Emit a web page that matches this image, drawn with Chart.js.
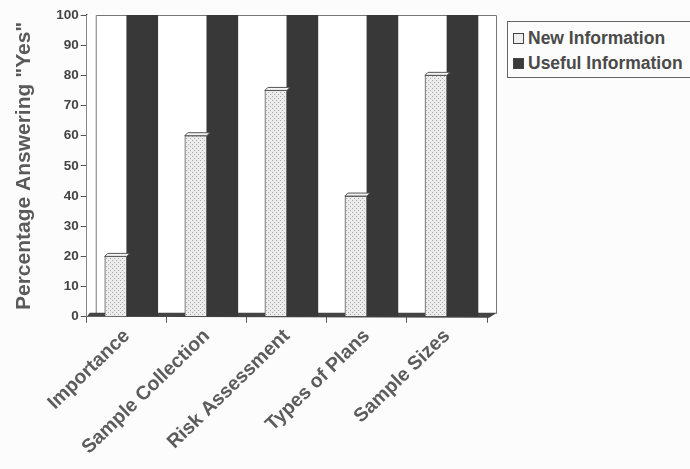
<!DOCTYPE html>
<html>
<head>
<meta charset="utf-8">
<script src="https://cdn.jsdelivr.net/npm/chart.js@4.4.0/dist/chart.umd.min.js"></script>
<style>
  html, body { margin: 0; padding: 0; background: #fcfcfc; }
  #wrap { position: relative; width: 690px; height: 469px; overflow: hidden; }
  #legend {
    position: absolute; left: 507px; top: 21px; width: 190px; height: 57px;
    border: 1.5px solid #666; box-sizing: border-box; background: #fcfcfc;
    font: bold 17.5px "Liberation Sans", Arial, sans-serif; color: #4a4a4a;
  }
  .item { position: absolute; left: 5px; display: flex; align-items: center; white-space: nowrap; }
  .sw { width: 11px; height: 11px; margin-right: 4px; border: 1px solid #444; box-sizing: border-box; }
</style>
</head>
<body>
<div id="wrap">
  <canvas id="c" width="690" height="469"></canvas>
  <div id="legend">
    <div class="item" style="top:6px"><span class="sw" style="background:#eee"></span>New Information</div>
    <div class="item" style="top:31px"><span class="sw" style="background:#3a3a3a"></span>Useful Information</div>
  </div>
</div>
<script>
  "use strict";

  // Data
  const categories = ["Importance", "Sample Collection", "Risk Assessment", "Types of Plans", "Sample Sizes"];
  const newInfo = [20, 60, 75, 40, 80];
  const usefulInfo = [100, 100, 100, 100, 100];
  const yTicks = [0, 10, 20, 30, 40, 50, 60, 70, 80, 90, 100];

  const FONT = "'Liberation Sans', Arial, sans-serif";

  // dotted fill for the light bars
  function dots() {
    const p = document.createElement("canvas");
    p.width = 4; p.height = 4;
    const g = p.getContext("2d");
    g.fillStyle = "#ececec"; g.fillRect(0, 0, 4, 4);
    g.fillStyle = "#a8a8a8"; g.fillRect(0, 0, 1, 1); g.fillRect(2, 2, 1, 1);
    return g.createPattern(p, "repeat");
  }

  const depth = 9;

  const frame3d = {
    id: "frame3d",
    beforeDatasetsDraw(chart) {
      const { ctx, chartArea: a } = chart;
      ctx.save();
      ctx.fillStyle = "#ffffff";
      ctx.fillRect(a.left, a.top, a.width + depth, a.height);
      ctx.strokeStyle = "#777"; ctx.lineWidth = 1;
      ctx.beginPath();
      ctx.moveTo(a.left + depth + 0.5, a.bottom - 3);
      ctx.lineTo(a.left + depth + 0.5, a.top + 0.5);
      ctx.lineTo(a.right + depth + 0.5, a.top + 0.5);
      ctx.lineTo(a.right + depth + 0.5, a.bottom - 3);
      ctx.stroke();
      // floor
      ctx.fillStyle = "#444";
      ctx.beginPath();
      ctx.moveTo(a.left, a.bottom);
      ctx.lineTo(a.left + 3, a.bottom - 4);
      ctx.lineTo(a.right + depth + 1, a.bottom - 4);
      ctx.lineTo(a.right + 2, a.bottom + 1);
      ctx.closePath();
      ctx.fill();
      ctx.restore();
    },
    afterDatasetDraw(chart, args) {
      if (args.index !== 0) return;
      const { ctx } = chart;
      ctx.save();
      ctx.fillStyle = "#f4f4f4"; ctx.strokeStyle = "#555"; ctx.lineWidth = 1;
      chart.getDatasetMeta(0).data.forEach(b => {
        const l = b.x - b.width / 2, r = b.x + b.width / 2, y = b.y;
        ctx.beginPath();
        ctx.moveTo(l, y);
        ctx.lineTo(l + 3, y - 3);
        ctx.lineTo(r + 3, y - 3);
        ctx.lineTo(r, y);
        ctx.closePath();
        ctx.fill(); ctx.stroke();
      });
      ctx.restore();
    }
  };

  new Chart(document.getElementById("c"), {
    type: "bar",
    data: {
      labels: categories,
      datasets: [
        { label: "New Information", data: newInfo, backgroundColor: dots(),
          borderColor: "#555", borderWidth: 1, barThickness: 22 },
        { label: "Useful Information", data: usefulInfo, backgroundColor: "#383838",
          borderColor: "#383838", borderWidth: 0, barThickness: 31 }
      ]
    },
    options: {
      responsive: false,
      animation: false,
      devicePixelRatio: 1,
      layout: { padding: { top: 15, right: 203, bottom: 8, left: 12 } },
      datasets: { bar: { categoryPercentage: 0.68, barPercentage: 1 } },
      plugins: { legend: { display: false }, tooltip: { enabled: false } },
      scales: {
        x: {
          offset: true,
          grid: { offset: true, drawOnChartArea: false, color: "#555", tickLength: 6 },
          border: { color: "#555", width: 1 },
          ticks: { color: "#5c5c5c", font: { family: FONT, size: 19.5, weight: "bold" },
                   minRotation: 44, maxRotation: 44, padding: 2 }
        },
        y: {
          min: 0, max: 100,
          afterBuildTicks(s) { s.ticks = yTicks.map(v => ({ value: v })); },
          grid: { drawOnChartArea: false, color: "#555", tickLength: 6 },
          border: { color: "#555", width: 1.5 },
          ticks: { color: "#444", font: { family: FONT, size: 13.5, weight: "bold" }, padding: 2 },
          title: { display: true, text: "Percentage Answering \"Yes\"", color: "#5a5a5a",
                   font: { family: FONT, size: 21, weight: "bold" }, padding: { top: 0, bottom: 17 } }
        }
      }
    },
    plugins: [frame3d]
  });
</script>
</body>
</html>
